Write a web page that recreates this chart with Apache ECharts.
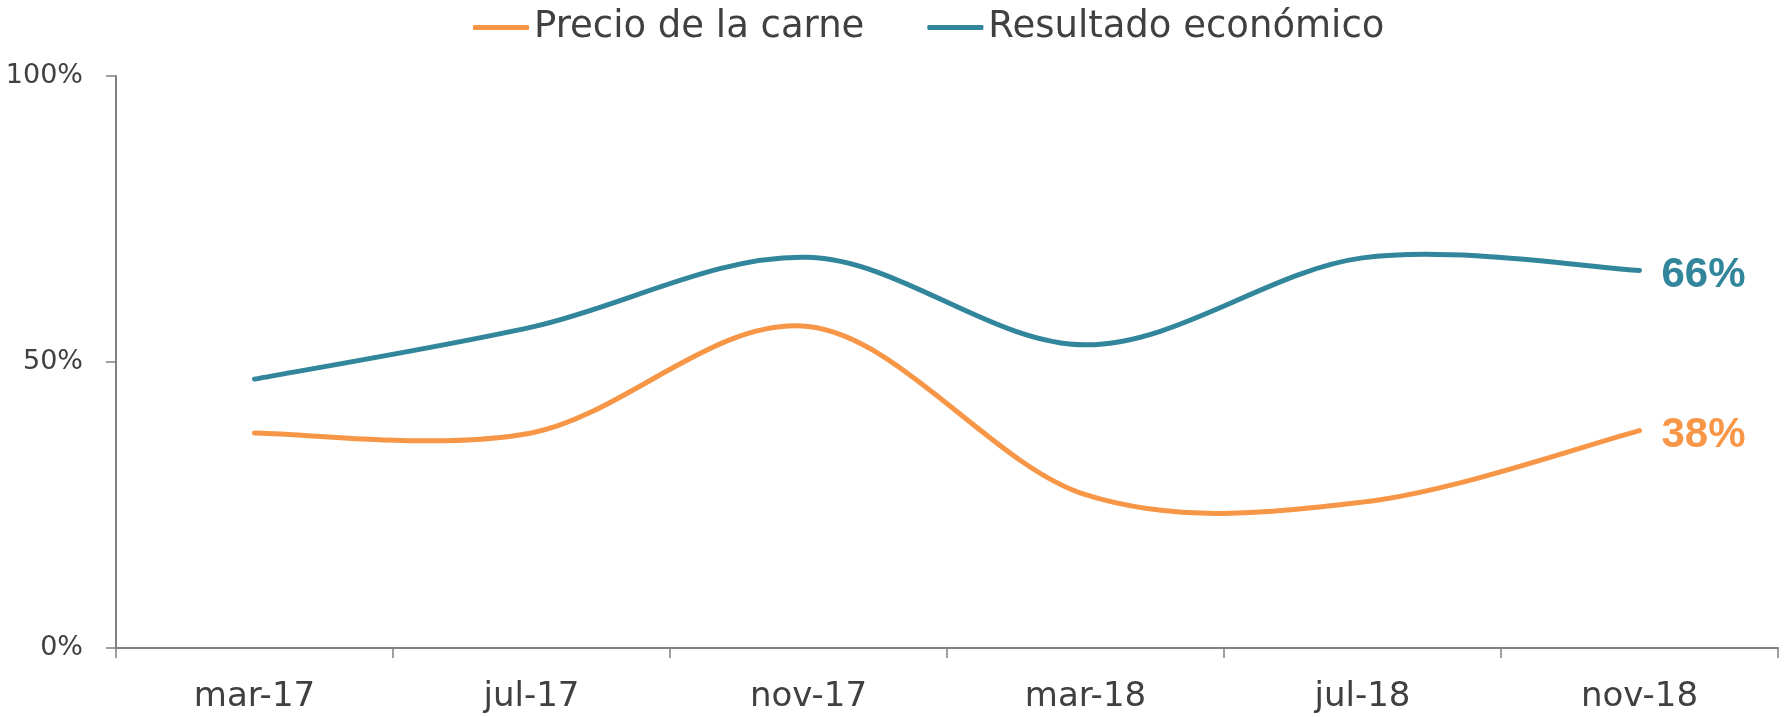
<!DOCTYPE html>
<html>
<head>
<meta charset="utf-8">
<style>
  html, body { margin: 0; padding: 0; background: #ffffff; }
  #chart { width: 1785px; height: 717px; }
</style>
<script src="https://cdn.jsdelivr.net/npm/echarts@6/dist/echarts.min.js"></script>
</head>
<body>
<div id="chart"></div>
<script>
const categories = ['mar-17', 'jul-17', 'nov-17', 'mar-18', 'jul-18', 'nov-18'];
const precioCarne = [37.6, 37.6, 56.2, 26.8, 25.5, 38];
const resultadoEconomico = [47.0, 56.1, 68.3, 53.0, 68.2, 66];
const seriesNames = ['Precio de la carne', 'Resultado económico'];
const yTicks = [0, 50, 100];

const orange = '#F79646';
const blue = '#31869B';
const textColor = '#404040';
const axisColor = '#808080';

// Smoothed (Catmull-Rom style, like spreadsheet smoothed lines) path through
// the points that the library's own scales give for each value.
function smoothLineRenderer(values, color) {
  return function (params, api) {
    if (params.dataIndex !== 0) return null;
    const pts = values.map((v, i) => api.coord([i, v]));
    let d = 'M' + pts[0][0] + ' ' + pts[0][1];
    for (let i = 0; i < pts.length - 1; i++) {
      const p0 = pts[Math.max(i - 1, 0)];
      const p1 = pts[i];
      const p2 = pts[i + 1];
      const p3 = pts[Math.min(i + 2, pts.length - 1)];
      const c1x = p1[0] + (p2[0] - p0[0]) / 6;
      const c1y = p1[1] + (p2[1] - p0[1]) / 6;
      const c2x = p2[0] - (p3[0] - p1[0]) / 6;
      const c2y = p2[1] - (p3[1] - p1[1]) / 6;
      d += ' C' + c1x + ' ' + c1y + ' ' + c2x + ' ' + c2y + ' ' + p2[0] + ' ' + p2[1];
    }
    const last = pts[pts.length - 1];
    return {
      type: 'group',
      children: [
        {
          type: 'path',
          shape: { pathData: d },
          style: { stroke: color, lineWidth: 5, fill: null, lineCap: 'round', lineJoin: 'round' }
        },
        {
          type: 'text',
          x: last[0] + 22,
          y: last[1] + 5,
          style: {
            text: Math.round(values[values.length - 1]) + '%',
            fill: color,
            font: 'bold 42px "Liberation Sans"',
            verticalAlign: 'middle',
            align: 'left'
          }
        }
      ]
    };
  };
}

const chart = echarts.init(document.getElementById('chart'), null, { renderer: 'canvas' });

chart.setOption({
  animation: false,
  backgroundColor: '#ffffff',
  legend: {
    top: 4,
    left: 468,
    itemWidth: 56,
    itemHeight: 5,
    itemGap: 63,
    icon: 'roundRect',
    textStyle: { fontFamily: 'DejaVu Sans', fontSize: 37, color: textColor },
    data: seriesNames
  },
  grid: {
    left: 116, right: 7, top: 76, bottom: 69,
    containLabel: false,
    outerBoundsMode: 'none'
  },
  xAxis: {
    type: 'category',
    data: categories,
    boundaryGap: true,
    axisLine: { show: true, lineStyle: { color: axisColor, width: 2 } },
    axisTick: { show: true, length: 10, lineStyle: { color: axisColor, width: 1.5 } },
    axisLabel: { margin: 32, fontFamily: 'DejaVu Sans', fontSize: 34, color: textColor },
    splitLine: { show: false }
  },
  yAxis: {
    type: 'value',
    min: yTicks[0],
    max: yTicks[yTicks.length - 1],
    interval: yTicks[1] - yTicks[0],
    axisLine: { show: true, lineStyle: { color: axisColor, width: 2 } },
    axisTick: { show: true, length: 10, lineStyle: { color: axisColor, width: 1.5 } },
    axisLabel: { margin: 33, fontFamily: 'DejaVu Sans', fontSize: 27, color: textColor, formatter: '{value}%' },
    splitLine: { show: false }
  },
  series: [
    {
      name: seriesNames[0],
      type: 'custom',
      data: precioCarne.map((v, i) => [i, v]),
      encode: { x: 0, y: 1 },
      itemStyle: { color: orange },
      renderItem: smoothLineRenderer(precioCarne, orange)
    },
    {
      name: seriesNames[1],
      type: 'custom',
      data: resultadoEconomico.map((v, i) => [i, v]),
      encode: { x: 0, y: 1 },
      itemStyle: { color: blue },
      renderItem: smoothLineRenderer(resultadoEconomico, blue)
    }
  ]
});
</script>
</body>
</html>
